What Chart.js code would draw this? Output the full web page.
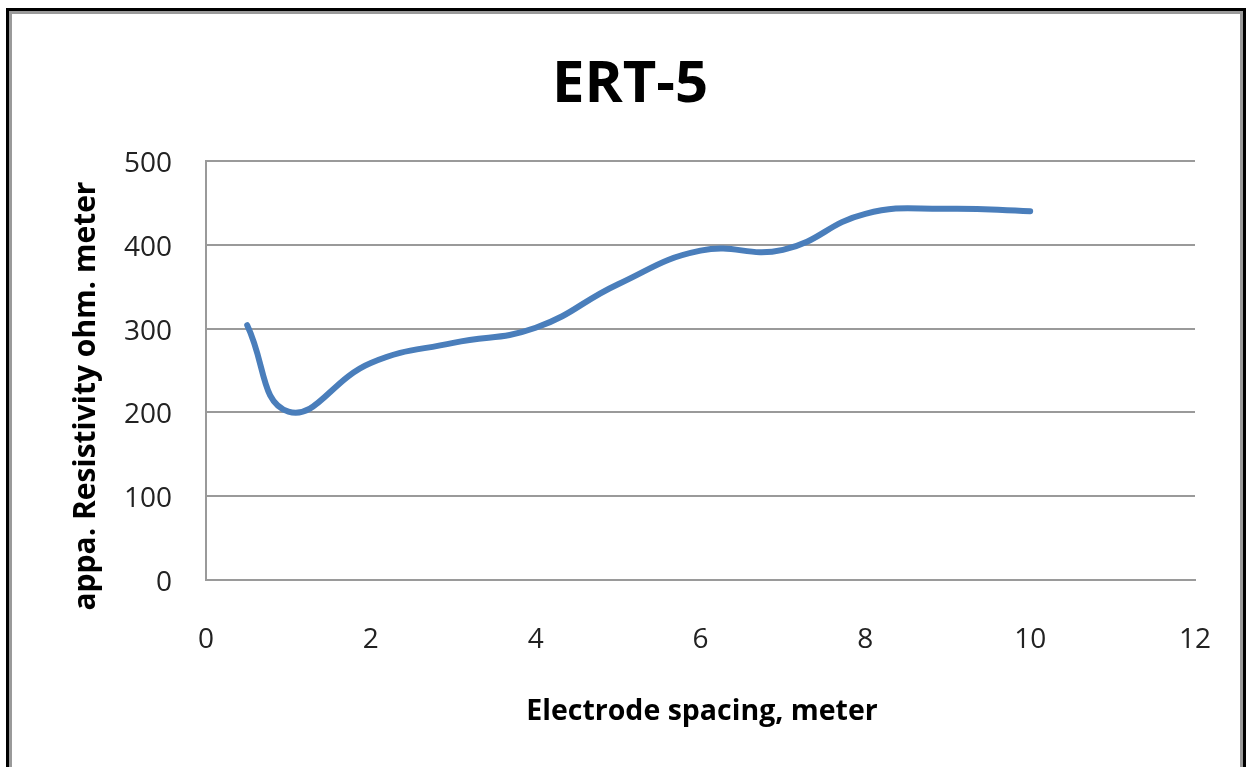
<!DOCTYPE html>
<html>
<head>
<meta charset="utf-8">
<script src="https://cdn.jsdelivr.net/npm/chart.js@4.4.1/dist/chart.umd.min.js"></script>
<style>
  html, body { margin: 0; padding: 0; background: #fff; }
  #wrap { position: relative; width: 1253px; height: 767px; overflow: hidden; }
  #frame {
    position: absolute; left: 6px; top: 8px; width: 1240px; height: 800px;
    border: 3px solid #000; box-sizing: border-box; pointer-events: none;
  }
  #frame::after {
    content: ''; position: absolute; left: 0; top: 0; right: 0; bottom: 0;
    border: 3px solid #9a9a9a;
  }
  canvas { position: absolute; left: 0; top: 0; }
</style>
</head>
<body>
<div id="wrap">
  <canvas id="ertChart" width="1253" height="767"></canvas>
  <div id="frame"></div>
</div>
<script>
// ERT-5 sounding curve
const spacing = [0.5, 1, 2, 3, 4, 5, 6, 7, 8, 9, 10];
const resistivity = [304, 201, 259, 283, 301, 353, 393, 394, 437, 443, 440];
const xTicks = [0, 2, 4, 6, 8, 10, 12];
const yTicks = [0, 100, 200, 300, 400, 500];

const FONT = "'Open Sans', 'Noto Sans', sans-serif";

// chart title and axis titles drawn by hand so they sit where the original had them
const chartTexts = {
    id: 'chartTexts',
    afterDraw(chart) {
        const ctx = chart.ctx;
        ctx.save();
        ctx.fillStyle = '#000';
        ctx.textAlign = 'center';
        ctx.textBaseline = 'alphabetic';

        ctx.font = 'bold 58px ' + FONT;
        ctx.fillText('ERT-5', 630, 102);

        ctx.font = 'bold 28.5px ' + FONT;
        ctx.fillText('Electrode spacing, meter', 702, 720);

        ctx.font = 'bold 30px ' + FONT;
        ctx.translate(95, 396);
        ctx.rotate(-Math.PI / 2);
        ctx.fillText('appa. Resistivity ohm. meter', 0, 0);
        ctx.restore();
    }
};

new Chart(document.getElementById('ertChart'), {
    type: 'line',
    data: {
        datasets: [{
            label: 'ERT-5',
            data: spacing.map((x, i) => ({ x: x, y: resistivity[i] })),
            borderColor: '#4a7ebb',
            borderWidth: 6,
            borderCapStyle: 'round',
            pointRadius: 0,
            tension: 0.45,
            fill: false
        }]
    },
    options: {
        responsive: false,
        animation: false,
        devicePixelRatio: 1,
        layout: { padding: { left: 0, right: 58, top: 161, bottom: 0 } },
        plugins: {
            legend: { display: false },
            tooltip: { enabled: false },
            title: { display: false }
        },
        scales: {
            x: {
                type: 'linear',
                min: 0,
                max: 12,
                afterBuildTicks(scale) { scale.ticks = xTicks.map(v => ({ value: v })); },
                afterFit(scale) { scale.height = 187; },
                grid: { display: false },
                border: { display: true, color: '#9a9a9a', width: 2 },
                ticks: {
                    color: '#222',
                    padding: 35,
                    font: { family: FONT, size: 28 }
                }
            },
            y: {
                min: 0,
                max: 500,
                afterBuildTicks(scale) { scale.ticks = yTicks.map(v => ({ value: v })); },
                afterFit(scale) { scale.width = 206; },
                grid: { color: '#9a9a9a', lineWidth: 2, drawTicks: false },
                border: { display: true, color: '#9a9a9a', width: 2 },
                ticks: {
                    color: '#222',
                    padding: 34,
                    labelOffset: 3,
                    font: { family: FONT, size: 28 }
                }
            }
        }
    },
    plugins: [chartTexts]
});
</script>
</body>
</html>
